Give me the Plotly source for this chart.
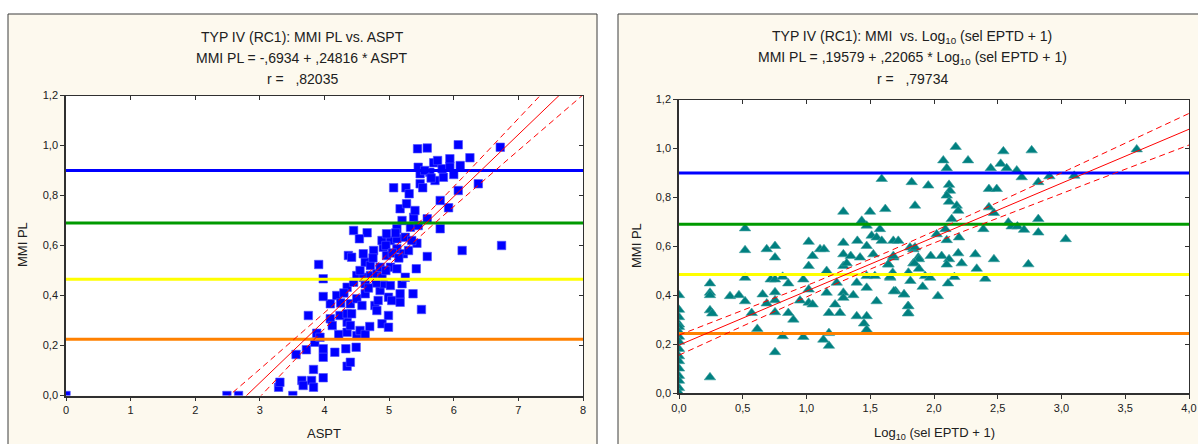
import numpy as np
import plotly.graph_objects as go

# ---------------- data: left panel (ASPT vs MMI PL) ----------------
aspt = [0.00, 2.49, 2.67, 3.51, 3.29, 3.31, 3.65, 3.67, 3.80, 3.83,
        3.83, 3.98, 4.35, 4.40, 3.56, 3.72, 3.98, 4.16, 4.33, 4.49,
        3.85, 3.88, 3.93, 4.22, 4.35, 4.50, 4.55, 4.63, 4.70, 4.89,
        4.99, 4.99, 3.98, 4.09, 4.35, 4.40, 3.75, 4.24, 4.35, 4.42,
        4.40, 4.78, 4.81, 5.50, 4.09, 3.98, 4.19, 4.50, 4.63, 4.83,
        4.99, 5.04, 5.17, 4.35, 4.86, 5.17, 5.37, 4.45, 4.63, 4.91,
        5.02, 5.20, 5.25, 3.98, 4.50, 4.60, 4.71, 4.81, 4.89, 3.91,
        4.63, 4.71, 4.86, 5.02, 5.12, 5.42, 4.37, 4.42, 4.60, 4.76,
        4.91, 4.96, 5.12, 5.22, 5.59, 6.13, 6.74, 4.45, 4.66, 4.54,
        4.89, 5.02, 5.12, 5.25, 5.43, 5.33, 4.96, 5.12, 5.79, 5.38,
        5.59, 5.17, 5.27, 5.40, 5.92, 5.79, 5.07, 5.26, 5.31, 6.07,
        5.48, 5.52, 6.38, 5.71, 5.84, 6.00, 5.63, 5.48, 5.45, 5.69,
        5.82, 5.94, 6.10, 5.44, 5.59, 6.07, 6.25, 5.94, 6.72,
        4.55, 4.75, 4.95, 5.05, 4.80, 4.68, 5.10, 5.20, 4.58, 4.25,
        5.30, 5.45, 5.55, 5.65, 5.75, 4.12, 4.30, 4.95, 5.15, 5.35]
mmi_pl = [0.000, 0.000, 0.000, 0.000, 0.033, 0.053, 0.060, 0.040, 0.060, 0.033,
          0.104, 0.071, 0.117, 0.133, 0.164, 0.183, 0.153, 0.173, 0.187, 0.193,
          0.213, 0.249, 0.233, 0.244, 0.253, 0.240, 0.260, 0.244, 0.276, 0.287,
          0.273, 0.320, 0.187, 0.307, 0.293, 0.280, 0.320, 0.320, 0.327, 0.327,
          0.367, 0.360, 0.340, 0.344, 0.367, 0.396, 0.400, 0.387, 0.407, 0.380,
          0.393, 0.380, 0.373, 0.433, 0.420, 0.407, 0.407, 0.453, 0.447, 0.447,
          0.440, 0.447, 0.473, 0.467, 0.480, 0.473, 0.480, 0.487, 0.473, 0.524,
          0.533, 0.520, 0.513, 0.513, 0.507, 0.507, 0.560, 0.553, 0.567, 0.580,
          0.593, 0.560, 0.587, 0.567, 0.556, 0.580, 0.600, 0.660, 0.651, 0.627,
          0.620, 0.620, 0.627, 0.633, 0.609, 0.673, 0.647, 0.667, 0.667, 0.713,
          0.707, 0.747, 0.767, 0.740, 0.751, 0.780, 0.831, 0.831, 0.807, 0.820,
          0.847, 0.831, 0.847, 0.860, 0.873, 0.884, 0.893, 0.887, 0.913, 0.931,
          0.907, 0.916, 0.920, 0.987, 0.990, 1.003, 0.951, 0.947, 0.993,
          0.500, 0.550, 0.600, 0.570, 0.450, 0.430, 0.650, 0.700, 0.360, 0.370,
          0.580, 0.680, 0.900, 0.870, 0.940, 0.280, 0.410, 0.500, 0.550, 0.620]

# ---------------- data: right panel (Log10(sel EPTD + 1) vs MMI) ----------------
log_eptd = [0.0] * 16 + [
    0.243, 0.243, 0.243, 0.243, 0.261, 0.243, 0.518, 0.518, 0.518, 0.518,
    0.400, 0.470, 0.570, 0.614, 0.656, 0.688, 0.688, 0.719, 0.753, 0.753,
    0.753, 0.753, 0.753, 0.753, 0.753, 0.813, 0.813, 0.857, 0.857, 0.897,
    0.949, 0.975, 0.975, 1.017, 1.017, 1.017, 1.017, 1.048, 1.048, 1.106,
    1.137, 1.158, 1.158, 1.176, 1.176, 1.176, 1.132, 1.224, 1.237, 1.263,
    1.289, 1.289, 1.289, 1.289, 1.289, 1.289, 1.347, 1.315, 1.367, 1.394,
    1.394, 1.399, 1.420, 1.433, 1.472, 1.472, 1.472, 1.472, 1.451, 1.472,
    1.472, 1.498, 1.511, 1.524, 1.536, 1.550, 1.550, 1.576, 1.590, 1.590,
    1.618, 1.642, 1.657, 1.681, 1.681, 1.699, 1.720, 1.765, 1.799, 1.799,
    1.799, 1.825, 1.851, 1.838, 1.838, 1.877,
    2.170, 2.073, 2.100, 2.267, 2.544, 2.766, 2.523, 2.445, 2.570, 2.649,
    2.688, 1.955, 2.118, 2.125, 2.100, 2.118, 2.178, 2.190, 2.139, 2.431,
    2.492, 2.818, 2.905, 3.100, 2.431, 2.470, 2.818, 2.583, 2.609, 2.654,
    2.706, 2.818, 3.033, 2.387, 2.089, 2.196, 2.100, 2.021, 1.812, 1.851,
    1.681, 1.974, 2.060, 2.190, 2.324, 2.470, 2.118, 2.100, 2.217, 1.882,
    1.847, 1.882, 1.642, 2.335, 2.740, 1.676, 1.800, 1.930, 1.970, 2.160,
    2.402, 1.815, 2.110, 1.655, 1.911, 1.685, 1.765, 2.031, 1.796, 1.796,
    3.590]
mmi_r = [0.40, 0.34, 0.31, 0.28, 0.27, 0.25, 0.23, 0.21, 0.18, 0.15,
         0.13, 0.10, 0.07, 0.05, 0.02, 0.00] + [
    0.448, 0.410, 0.400, 0.338, 0.325, 0.064, 0.673, 0.584, 0.471, 0.375,
    0.396, 0.400, 0.327, 0.262, 0.403, 0.588, 0.366, 0.464, 0.601, 0.554,
    0.464, 0.412, 0.379, 0.330, 0.167, 0.475, 0.232, 0.448, 0.327, 0.300,
    0.378, 0.464, 0.229, 0.618, 0.519, 0.423, 0.369, 0.560, 0.362, 0.588,
    0.588, 0.499, 0.410, 0.327, 0.245, 0.193, 0.218, 0.362, 0.451, 0.327,
    0.741, 0.614, 0.567, 0.519, 0.410, 0.389, 0.560, 0.530, 0.400, 0.314,
    0.451, 0.622, 0.554, 0.704, 0.684, 0.601, 0.478, 0.430, 0.284, 0.259,
    0.314, 0.741, 0.643, 0.567, 0.478, 0.375, 0.636, 0.670, 0.875, 0.622,
    0.752, 0.526, 0.471, 0.622, 0.554, 0.416, 0.622, 0.403, 0.355, 0.327,
    0.492, 0.862, 0.766, 0.588, 0.530, 0.554,
    1.006, 0.951, 0.919, 0.951, 0.988, 0.992, 0.937, 0.919, 0.919, 0.910,
    0.882, 0.848, 0.851, 0.827, 0.807, 0.782, 0.766, 0.745, 0.711, 0.834,
    0.834, 0.862, 0.886, 0.888, 0.759, 0.736, 0.711, 0.697, 0.681, 0.681,
    0.667, 0.656, 0.629, 0.670, 0.670, 0.636, 0.625, 0.649, 0.595, 0.595,
    0.560, 0.560, 0.560, 0.571, 0.567, 0.547, 0.547, 0.525, 0.530, 0.547,
    0.530, 0.508, 0.525, 0.508, 0.526, 0.492, 0.490, 0.478, 0.471, 0.474,
    0.467, 0.458, 0.448, 0.475, 0.434, 0.416, 0.403, 0.396, 0.355, 0.325,
    0.996]

# regression coefficients (from titles)
left_a, left_b = -0.6934, 0.24816
right_a, right_b = 0.19579, 0.22065

# class boundaries (horizontal lines)
left_bounds = [0.9, 0.69, 0.465, 0.225]
right_bounds = [0.9, 0.69, 0.485, 0.243]
bound_colors = ["#0000FF", "#009A00", "#FFFF00", "#FF8000"]

W, H = 1198, 444
FONT = "Liberation Sans, Arial, sans-serif"
CREAM = "#FDF9EE"


def conf_band(x, y, a, b, xg, t=1.8):
    x = np.asarray(x, float)
    y = np.asarray(y, float)
    n = len(x)
    res = y - (a + b * x)
    s = np.sqrt(np.sum(res ** 2) / (n - 2))
    xbar = x.mean()
    sxx = np.sum((x - xbar) ** 2)
    half = t * s * np.sqrt(1.0 / n + (xg - xbar) ** 2 / sxx)
    yfit = a + b * xg
    return yfit, yfit - half, yfit + half


def px_x(p):
    return p / W


def px_y(p):
    return 1 - p / H


fig = go.Figure()

# ---- left panel
xg_l = np.linspace(0, 8, 400)
fit_l, lo_l, hi_l = conf_band(aspt, mmi_pl, left_a, left_b, xg_l)
fig.add_trace(go.Scatter(x=aspt, y=mmi_pl, mode="markers", xaxis="x", yaxis="y",
                         marker=dict(symbol="square", size=8.5, color="#0000FF",
                                     line=dict(width=0.6, color="#5050FF")),
                         showlegend=False, hoverinfo="skip"))
for v, c in zip(left_bounds, bound_colors):
    fig.add_trace(go.Scatter(x=[0, 8], y=[v, v], mode="lines", xaxis="x", yaxis="y",
                             line=dict(color=c, width=3), showlegend=False, hoverinfo="skip"))
fig.add_trace(go.Scatter(x=xg_l, y=fit_l, mode="lines", xaxis="x", yaxis="y",
                         line=dict(color="#FF0000", width=1), showlegend=False, hoverinfo="skip"))
for band in (lo_l, hi_l):
    fig.add_trace(go.Scatter(x=xg_l, y=band, mode="lines", xaxis="x", yaxis="y",
                             line=dict(color="#FF0000", width=1, dash="6px,4px"),
                             showlegend=False, hoverinfo="skip"))

# ---- right panel
xg_r = np.linspace(0, 4, 400)
fit_r, lo_r, hi_r = conf_band(log_eptd, mmi_r, right_a, right_b, xg_r)
fig.add_trace(go.Scatter(x=log_eptd, y=mmi_r, mode="markers", xaxis="x2", yaxis="y2",
                         marker=dict(symbol="triangle-up", size=10, color="#008080",
                                     line=dict(width=0.6, color="#40A0A0")),
                         showlegend=False, hoverinfo="skip"))
for v, c in zip(right_bounds, bound_colors):
    fig.add_trace(go.Scatter(x=[0, 4], y=[v, v], mode="lines", xaxis="x2", yaxis="y2",
                             line=dict(color=c, width=3), showlegend=False, hoverinfo="skip"))
fig.add_trace(go.Scatter(x=xg_r, y=fit_r, mode="lines", xaxis="x2", yaxis="y2",
                         line=dict(color="#FF0000", width=1), showlegend=False, hoverinfo="skip"))
for band in (lo_r, hi_r):
    fig.add_trace(go.Scatter(x=xg_r, y=band, mode="lines", xaxis="x2", yaxis="y2",
                             line=dict(color="#FF0000", width=1, dash="6px,4px"),
                             showlegend=False, hoverinfo="skip"))

# dummy traces for mirrored inner-tick axes
fig.add_trace(go.Scatter(x=[None], y=[None], xaxis="x3", yaxis="y3", showlegend=False, hoverinfo="skip"))
fig.add_trace(go.Scatter(x=[None], y=[None], xaxis="x4", yaxis="y4", showlegend=False, hoverinfo="skip"))

# geometry (pixels)
L_plot = (66, 583, 95.5, 395.5)
R_plot = (679, 1189, 99.5, 393)

tickfont = dict(family=FONT, size=11, color="#202020")
yticks = [0, 0.2, 0.4, 0.6, 0.8, 1.0, 1.2]

common_main = dict(showline=True, linecolor="#303030", linewidth=1.5, ticks="outside",
                   ticklen=4, tickcolor="#303030", showgrid=False, zeroline=False,
                   tickfont=tickfont, automargin=False)
common_mirror = dict(showline=True, linecolor="#303030", linewidth=1, ticks="inside",
                     ticklen=4, tickcolor="#303030", showgrid=False, zeroline=False,
                     showticklabels=False, automargin=False)

fig.update_layout(
    width=W, height=H, margin=dict(l=0, r=0, t=0, b=0, pad=0, autoexpand=False),
    paper_bgcolor="white", plot_bgcolor="white",
    separators=",.",
    xaxis=dict(domain=[px_x(L_plot[0]), px_x(L_plot[1])], range=[0, 8], tickvals=list(range(9)),
               tickformat="d", anchor="y", **common_main),
    yaxis=dict(domain=[px_y(L_plot[3]), px_y(L_plot[2])], range=[0, 1.2], tickvals=yticks,
               tickformat=".1f", anchor="x", **common_main),
    xaxis3=dict(overlaying="x", side="top", anchor="y", range=[0, 8], tickvals=list(range(9)),
                **common_mirror),
    yaxis3=dict(overlaying="y", side="right", anchor="x", range=[0, 1.2], tickvals=yticks,
                **common_mirror),
    xaxis2=dict(domain=[px_x(R_plot[0]), px_x(R_plot[1])], range=[0, 4],
                tickvals=[0, 0.5, 1, 1.5, 2, 2.5, 3, 3.5, 4], tickformat=".1f", anchor="y2",
                **common_main),
    yaxis2=dict(domain=[px_y(R_plot[3]), px_y(R_plot[2])], range=[0, 1.2], tickvals=yticks,
                tickformat=".1f", anchor="x2", **common_main),
    xaxis4=dict(overlaying="x2", side="top", anchor="y2", range=[0, 4],
                tickvals=[0, 0.5, 1, 1.5, 2, 2.5, 3, 3.5, 4], **common_mirror),
    yaxis4=dict(overlaying="y2", side="right", anchor="x2", range=[0, 1.2], tickvals=yticks,
                **common_mirror),
)

# panel boxes and white plot areas
shapes = [
    dict(type="rect", xref="paper", yref="paper", x0=px_x(8), x1=px_x(597), y0=-0.05, y1=px_y(14),
         fillcolor=CREAM, line=dict(color="#3C3C3C", width=1), layer="below"),
    dict(type="rect", xref="paper", yref="paper", x0=px_x(618), x1=1.05, y0=-0.05, y1=px_y(14),
         fillcolor=CREAM, line=dict(color="#3C3C3C", width=1), layer="below"),
    dict(type="rect", xref="x domain", yref="y domain", x0=0, x1=1, y0=0, y1=1,
         fillcolor="white", line=dict(width=0), layer="below"),
    dict(type="rect", xref="x2 domain", yref="y2 domain", x0=0, x1=1, y0=0, y1=1,
         fillcolor="white", line=dict(width=0), layer="below"),
]
fig.update_layout(shapes=shapes)

tfont = dict(family=FONT, size=14, color="#202020")
afont = dict(family=FONT, size=13, color="#202020")
ann = []
lx, rx = 302, 912
for x0, lines in (
    (lx, ["TYP IV (RC1): MMI PL vs. ASPT",
          "MMI PL = -,6934 + ,24816 * ASPT",
          "r = &nbsp; ,82035"]),
    (rx, ["TYP IV (RC1): MMI &nbsp;vs. Log<sub>10</sub> (sel EPTD + 1)",
          "MMI PL = ,19579 + ,22065 * Log<sub>10</sub> (sel EPTD + 1)",
          "r = &nbsp; ,79734"]),
):
    for yy, txt in zip((37, 58, 79), lines):
        ann.append(dict(x=px_x(x0), y=px_y(yy), xref="paper", yref="paper", text=txt,
                        showarrow=False, xanchor="center", yanchor="middle", font=tfont))

ann.append(dict(x=px_x(324), y=px_y(433), xref="paper", yref="paper", text="ASPT",
                showarrow=False, xanchor="center", yanchor="middle", font=afont))
ann.append(dict(x=px_x(934), y=px_y(433), xref="paper", yref="paper",
                text="Log<sub>10</sub> (sel EPTD + 1)",
                showarrow=False, xanchor="center", yanchor="middle", font=afont))
ann.append(dict(x=px_x(22), y=px_y(245), xref="paper", yref="paper", text="MMI PL",
                showarrow=False, xanchor="center", yanchor="middle", textangle=-90, font=afont))
ann.append(dict(x=px_x(636), y=px_y(246), xref="paper", yref="paper", text="MMI PL",
                showarrow=False, xanchor="center", yanchor="middle", textangle=-90, font=afont))
fig.update_layout(annotations=ann)

fig.write_html("out.html")
